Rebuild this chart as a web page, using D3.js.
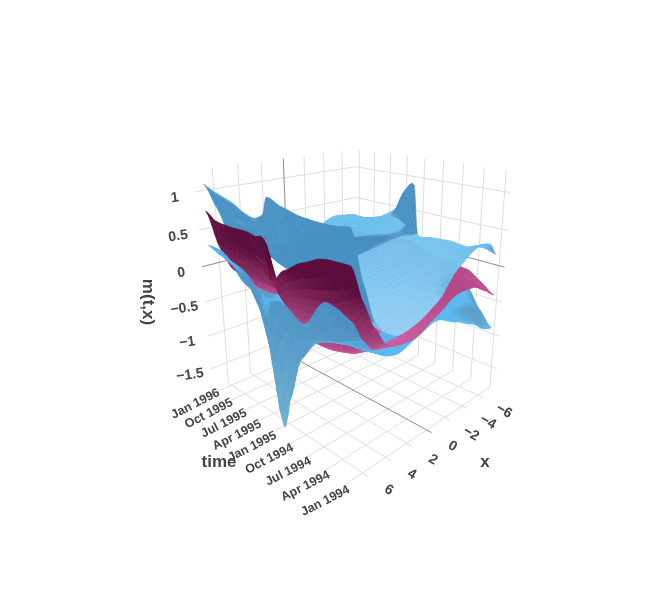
<!DOCTYPE html>
<html>
<head>
<meta charset="utf-8">
<style>
	body { margin: 0; background: #fff; }
	svg { display: block; filter: blur(0.45px); }
	text { font-family: "Liberation Sans", Arial, sans-serif; font-weight: bold; fill: #444; }
</style>
<script src="https://cdn.jsdelivr.net/npm/d3@7"></script>
</head>
<body>
<svg></svg>
<script>
const xGrid = [7.3, 6.4, 5.5, 4.5, 3.5, 2, 0, -2, -4, -5.5, -6.4];
const timeGrid = ['1993-12-09', '1994-02-06', '1994-04-01', '1994-07-01', '1994-10-01', '1994-12-08',
	'1995-01-01', '1995-02-15', '1995-04-01', '1995-07-01', '1995-10-01', '1995-12-05'];

// one row per timeGrid entry, one column per xGrid entry
const upperBand = [
	[1.08, 0.47, 0, -0.18, -0.27, -0.23, -0.08, 0.24, 0.41, 0.4, 0.22],
	[1.05, 0.48, 0.02, -0.15, -0.22, -0.18, -0.04, 0.2, 0.33, 0.33, 0.28],
	[1.04, 0.5, 0.05, -0.1, -0.15, -0.1, 0, 0.15, 0.25, 0.25, 0.23],
	[1.05, 0.55, 0.1, -0.02, -0.06, 0, 0.08, 0.15, 0.22, 0.25, 0.25],
	[1.1, 0.6, 0.15, 0.05, 0.02, 0.05, 0.12, 0.17, 0.22, 0.23, 0.23],
	[1.16, 0.7, 0.25, 0.12, 0.1, 0.12, 0.18, 0.22, 0.24, 0.24, 0.23],
	[0.95, 0.5, 0.22, 0.18, 0.2, 0.3, 0.4, 0.36, 0.33, 0.38, 0.93],
	[0.88, 0.5, 0.25, 0.2, 0.2, 0.28, 0.42, 0.42, 0.38, 0.45, 0.84],
	[0.9, 0.55, 0.3, 0.22, 0.22, 0.27, 0.38, 0.45, 0.38, 0.42, 0.53],
	[1, 0.7, 0.45, 0.35, 0.3, 0.3, 0.33, 0.4, 0.37, 0.36, 0.35],
	[1.06, 0.72, 0.4, 0.25, 0.15, 0.15, 0.25, 0.34, 0.34, 0.32, 0.28],
	[1.12, 0.78, 0.33, 0.13, 0.03, -0.07, 0.03, 0.18, 0.33, 0.31, 0.29]
];
const meanSurface = [
	[0.7, 0.27, -0.07, -0.32, -0.39, -0.4, -0.25, -0.09, -0.1, -0.23, -0.33],
	[0.69, 0.15, -0.3, -0.45, -0.48, -0.43, -0.25, -0.1, -0.08, -0.15, -0.2],
	[0.67, 0.05, -0.48, -0.55, -0.55, -0.45, -0.25, -0.1, -0.06, -0.08, -0.09],
	[0.55, 0, -0.56, -0.56, -0.5, -0.4, -0.22, -0.1, -0.05, -0.05, -0.05],
	[0.38, -0.05, -0.56, -0.52, -0.42, -0.32, -0.18, -0.08, -0.03, 0, 0],
	[0.2, -0.1, -0.45, -0.42, -0.35, -0.28, -0.15, -0.06, 0, 0.02, 0.05],
	[0.67, 0.1, -0.2, -0.3, -0.3, -0.25, -0.12, -0.05, 0, 0.05, 0.1],
	[0.67, 0.15, -0.1, -0.25, -0.28, -0.25, -0.1, -0.02, 0.02, 0.05, 0.1],
	[0.69, 0.2, -0.1, -0.25, -0.3, -0.25, -0.1, 0, 0.03, 0.05, 0.08],
	[0.68, 0.22, -0.1, -0.3, -0.35, -0.3, -0.15, -0.03, 0.02, 0.05, 0.05],
	[0.69, 0.22, -0.1, -0.3, -0.4, -0.35, -0.2, -0.05, 0, 0.02, 0.02],
	[0.78, 0.25, -0.08, -0.22, -0.33, -0.47, -0.27, -0.07, -0.02, 0.01, 0.01]
];
const lowerBand = [
	[0.12, -0.15, -0.34, -0.45, -0.49, -0.41, -0.31, -0.45, -0.6, -0.76, -0.8],
	[0.2, -0.22, -0.38, -0.47, -0.5, -0.43, -0.35, -0.35, -0.38, -0.46, -0.58],
	[0.2, -0.3, -0.38, -0.5, -0.52, -0.45, -0.38, -0.3, -0.33, -0.33, -0.33],
	[-0.15, -0.42, -0.45, -0.55, -0.55, -0.48, -0.38, -0.3, -0.28, -0.28, -0.3],
	[-0.02, -0.8, -0.45, -0.55, -0.55, -0.5, -0.38, -0.3, -0.28, -0.25, -0.25],
	[-0.05, -1.5, -0.55, -0.52, -0.52, -0.48, -0.38, -0.28, -0.26, -0.25, -0.22],
	[-0.27, -1.83, -0.5, -0.5, -0.5, -0.48, -0.38, -0.28, -0.25, -0.2, -0.2],
	[-0.1, -0.9, -0.33, -0.35, -0.48, -0.45, -0.35, -0.28, -0.22, -0.2, -0.2],
	[0.06, -0.4, -0.28, -0.33, -0.5, -0.45, -0.35, -0.25, -0.2, -0.2, -0.2],
	[0.19, 0.05, -0.28, -0.5, -0.55, -0.5, -0.4, -0.3, -0.25, -0.2, -0.2],
	[0.27, 0.12, -0.2, -0.4, -0.6, -0.6, -0.45, -0.35, -0.3, -0.25, -0.25],
	[0.33, 0.23, 0.1, -0.05, -0.22, -0.57, -0.52, -0.37, -0.32, -0.27, -0.27]
];

const xTicks = [6, 4, 2, 0, -2, -4, -6];
const zTicks = [1, 0.5, 0, -0.5, -1, -1.5];
const timeTicks = ['1994-01-01', '1994-04-01', '1994-07-01', '1994-10-01', '1995-01-01',
	'1995-04-01', '1995-07-01', '1995-10-01', '1996-01-01'].map(d3.isoParse);

const xRange = [7.387, -7.559];
const zRange = [-1.827, 1.277];
const timeRange = ['1993-12-09', '1996-01-24'].map(d3.isoParse);

const width = 654;
const height = 589;

const xScale = d3.scaleLinear().domain([-6, 6]).range([-1, 1]);
const timeScale = d3.scaleTime().domain([timeTicks[0], timeTicks[8]]).range([-1, 1]);
const zScale = d3.scaleLinear().domain([-1.5, 1]).range([-1, 1]);

// camera matrix, fitted to the floor and wall grid of the picture
const camA = [-97.17, -28.18, -17.4, 352.76];
const camB = [-7.32, 7.78, -102.04, 285.09];
const camC = [-0.1014, 0.11639, -0.0484];

const project = (x, t, z) => {
	const u = xScale(x), v = timeScale(t), w = zScale(z);
	const d = camC[0] * u + camC[1] * v + camC[2] * w + 1;
	return [
		(camA[0] * u + camA[1] * v + camA[2] * w + camA[3]) / d,
		(camB[0] * u + camB[1] * v + camB[2] * w + camB[3]) / d,
		d
	];
};

const svg = d3.select('svg')
	.attr('width', width)
	.attr('height', height)
	.attr('viewBox', [0, 0, width, height]);

// grid on the floor and the two back walls
const gridLines = [];
const addLine = (a, b, zero) => gridLines.push({ a: project(...a), b: project(...b), zero });
xTicks.forEach((x) => {
	addLine([x, timeRange[0], zRange[0]], [x, timeRange[1], zRange[0]], x === 0);
	addLine([x, timeRange[1], zRange[0]], [x, timeRange[1], zRange[1]], x === 0);
});
timeTicks.forEach((t) => {
	addLine([xRange[0], t, zRange[0]], [xRange[1], t, zRange[0]], false);
	addLine([xRange[1], t, zRange[0]], [xRange[1], t, zRange[1]], false);
});
zTicks.forEach((z) => {
	addLine([xRange[0], timeRange[1], z], [xRange[1], timeRange[1], z], z === 0);
	addLine([xRange[1], timeRange[1], z], [xRange[1], timeRange[0], z], z === 0);
});

svg.append('g')
	.selectAll('line')
	.data(gridLines.sort((a, b) => a.zero - b.zero))
	.join('line')
	.attr('x1', (d) => d.a[0])
	.attr('y1', (d) => d.a[1])
	.attr('x2', (d) => d.b[0])
	.attr('y2', (d) => d.b[1])
	.attr('stroke', (d) => d.zero ? '#8c8c8c' : '#dedede')
	.attr('stroke-width', 1);

// smooth the read values for drawing, tight tangents keep the spikes sharp
const hermite = (p0, p1, p2, p3, f) => {
	const m1 = 0.32 * (p2 - p0), m2 = 0.32 * (p3 - p1);
	const f2 = f * f, f3 = f2 * f;
	return (2 * f3 - 3 * f2 + 1) * p1 + (f3 - 2 * f2 + f) * m1 + (3 * f2 - 2 * f3) * p2 + (f3 - f2) * m2;
};

const steps = 5;
const sample = (row, pos) => {
	const i = Math.min(Math.floor(pos), row.length - 2);
	const at = (k) => row[Math.max(0, Math.min(row.length - 1, k))];
	return hermite(at(i - 1), at(i), at(i + 1), at(i + 2), pos - i);
};
const fineIndex = (n) => d3.range((n - 1) * steps + 1).map((k) => k / steps);

const timeNumbers = timeGrid.map((d) => +d3.isoParse(d));
const fineX = fineIndex(xGrid.length).map((p) => d3.interpolateNumber(xGrid[Math.floor(p)], xGrid[Math.ceil(p)])(p % 1));
const fineT = fineIndex(timeGrid.length).map((p) => new Date(d3.interpolateNumber(timeNumbers[Math.floor(p)], timeNumbers[Math.ceil(p)])(p % 1)));

const refine = (values) => {
	const rows = values.map((row) => fineIndex(xGrid.length).map((p) => sample(row, p)));
	return fineIndex(timeGrid.length).map((p) =>
		fineX.map((_, c) => Math.max(zRange[0], sample(rows.map((r) => r[c]), p))));
};

const surfaces = [
	{
		values: upperBand,
		flat: d3.scaleLinear().domain([-0.3, 0.4]).range(['#97d5f7', '#6cbeec']).clamp(true),
		steep: d3.scaleLinear().domain([-1.8, 0.3]).range(['#72b2d2', '#4790c3']).clamp(true)
	},
	{
		values: meanSurface,
		flat: d3.scaleLinear().domain([-0.45, 0.1]).range(['#d05a9c', '#aa3c7a']).clamp(true),
		steep: d3.scaleLinear().domain([-0.5, -0.3, 0, 0.4]).range(['#b84e8c', '#a4447e', '#8a2e60', '#5c0b3b']).clamp(true)
	},
	{
		values: lowerBand,
		flat: d3.scaleLinear().domain([-0.5, 0.4]).range(['#5ab7ef', '#56b4ec']).clamp(true),
		steep: d3.scaleLinear().domain([-1.8, 0.3]).range(['#72b2d2', '#4790c3']).clamp(true)
	}
];

const flatness = d3.scaleLinear().domain([0.55, 0.8]).range([0, 1]).clamp(true);
const cells = [];
surfaces.forEach((s) => {
	const z = refine(s.values);
	for (let r = 0; r < fineT.length - 1; r++) {
		for (let c = 0; c < fineX.length - 1; c++) {
			const corners = [[c, r], [c + 1, r], [c + 1, r + 1], [c, r + 1]]
				.map(([i, j]) => project(fineX[i], fineT[j], z[j][i]));
			const zMid = (z[r][c] + z[r][c + 1] + z[r + 1][c] + z[r + 1][c + 1]) / 4;
			const du = xScale(fineX[c + 1]) - xScale(fineX[c]);
			const dv = timeScale(fineT[r + 1]) - timeScale(fineT[r]);
			const sx = ((zScale(z[r][c + 1]) + zScale(z[r + 1][c + 1]) - zScale(z[r][c]) - zScale(z[r + 1][c])) / 2) / du;
			const st = ((zScale(z[r + 1][c]) + zScale(z[r + 1][c + 1]) - zScale(z[r][c]) - zScale(z[r][c + 1])) / 2) / dv;
			const flat = flatness(1 / Math.sqrt(1 + sx * sx + st * st));
			cells.push({
				corners,
				depth: d3.mean(corners, (p) => p[2]),
				color: d3.interpolateRgb(s.steep(zMid), s.flat(zMid))(flat)
			});
		}
	}
});
cells.sort((a, b) => b.depth - a.depth);

svg.append('g')
	.selectAll('path')
	.data(cells)
	.join('path')
	.attr('d', (d) => 'M' + d.corners.map((p) => p[0].toFixed(2) + ',' + p[1].toFixed(2)).join('L') + 'Z')
	.attr('fill', (d) => d.color)
	.attr('stroke', (d) => d.color)
	.attr('stroke-width', 0.5);

// axis labels
const minusFormat = (v) => String(v).replace('-', '\u2212');
const timeFormat = d3.timeFormat('%b %Y');

svg.append('g')
	.selectAll('text')
	.data(zTicks)
	.join('text')
	.attr('transform', (d) => {
		const p = project(xRange[0], timeRange[1], d);
		return 'translate(' + (p[0] - 20) + ',' + (p[1] + 10) + ') rotate(-8)';
	})
	.attr('text-anchor', 'middle')
	.attr('font-size', 14)
	.text(minusFormat);

svg.append('g')
	.selectAll('text')
	.data(xTicks)
	.join('text')
	.attr('transform', (d) => {
		const p = project(d, timeRange[0], zRange[0]);
		return 'translate(' + (p[0] + 19) + ',' + (p[1] + 17) + ') rotate(30)';
	})
	.attr('text-anchor', 'middle')
	.attr('font-size', 14)
	.text(minusFormat);

svg.append('g')
	.selectAll('text')
	.data(timeTicks)
	.join('text')
	.attr('transform', (d, i) => {
		const p = project(xRange[0], d, zRange[0]);
		return 'translate(' + (p[0] + 5) + ',' + (p[1] + 3 + (8 - i) * 0.6) + ') rotate(-27)';
	})
	.attr('text-anchor', 'end')
	.attr('font-size', 12.5)
	.text(timeFormat);

svg.append('text').attr('x', 485).attr('y', 467).attr('text-anchor', 'middle').attr('font-size', 17).text('x');
svg.append('text').attr('x', 219).attr('y', 467).attr('text-anchor', 'middle').attr('font-size', 17).text('time');
svg.append('text')
	.attr('transform', 'translate(143,302) rotate(90)')
	.attr('text-anchor', 'middle')
	.attr('font-size', 17)
	.text('m(t,x)');
</script>
</body>
</html>
